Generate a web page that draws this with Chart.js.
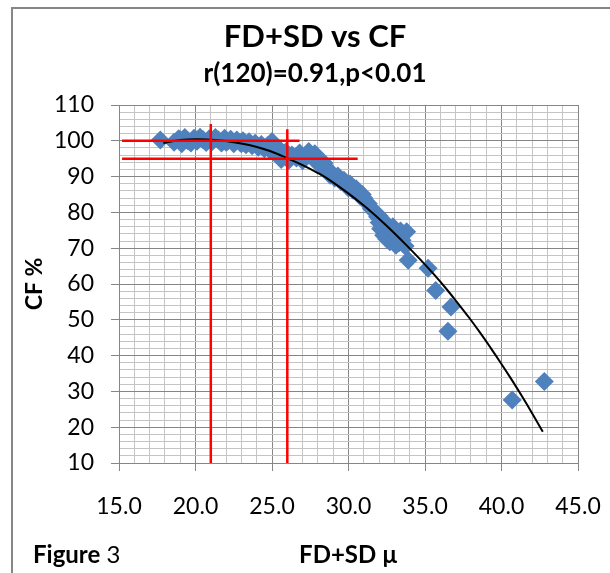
<!DOCTYPE html>
<html>
<head>
<meta charset="utf-8">
<script src="https://cdn.jsdelivr.net/npm/chart.js@4.4.1/dist/chart.umd.min.js"></script>
<style>
  html, body { margin: 0; padding: 0; background: #fff; }
  canvas { display: block; }
</style>
</head>
<body>
<canvas id="cfChart" width="610" height="573"></canvas>
<script>
// valores
const fdsd = [
    17.7, 18.6, 18.9, 19.0, 19.1, 19.3, 19.5, 19.7, 19.9, 20.0, 20.1, 20.3, 20.5, 20.7, 20.9, 21.0, 21.1, 21.3,
    21.5, 21.7, 21.9, 22.0, 22.1, 22.3, 22.5, 22.7, 22.9, 23.0, 23.1, 23.3, 23.5, 23.7, 23.9, 24.0, 24.1, 24.3,
    24.5, 24.7, 24.9, 25.0, 25.1, 25.3, 25.5, 25.6, 25.7, 25.9, 26.0, 26.1, 26.3,
    26.6, 26.8, 27.0, 27.2, 27.4, 27.5, 27.6, 27.8, 28.0, 28.2, 28.4, 28.6, 28.8,
    28.9, 29.1, 29.3, 29.5, 29.7, 29.9, 30.0, 30.1, 30.3, 30.5, 30.7, 30.9, 31.0, 31.1, 31.3, 31.5, 31.7,
    31.9, 32.0, 32.0, 32.1, 32.2, 32.3, 32.4, 32.5, 32.5, 32.6, 32.7, 32.8, 32.9, 33.0, 33.0, 33.1, 33.2,
    33.3, 33.4, 33.5, 33.7, 33.8, 33.9,
    35.2, 35.7, 36.7, 36.5, 40.7, 42.8
];
const cf = [
    100.2, 99.6, 100.6, 100.3, 99.2, 100.9, 100.0, 99.4, 100.7, 100.4, 99.9, 101.0, 100.3, 99.5, 100.6, 100.1, 99.8, 100.9,
    100.2, 99.4, 100.7, 99.6, 99.9, 100.4, 99.2, 100.2, 99.6, 99.2, 100.0, 98.9, 99.7, 98.6, 99.3, 98.8, 98.2, 99.0,
    97.8, 98.6, 97.3, 99.8, 98.2, 96.6, 97.6, 94.8, 95.6, 96.9, 95.8, 94.6, 96.0,
    95.2, 96.6, 94.4, 95.8, 97.0, 96.0, 95.4, 96.4, 94.0, 92.8, 93.8, 91.6, 90.4,
    91.0, 89.6, 90.2, 88.6, 89.0, 87.4, 86.8, 87.9, 86.2, 86.6, 84.8, 85.0, 84.0, 83.2, 82.4, 81.0, 80.2,
    78.8, 77.2, 79.0, 75.4, 78.0, 73.6, 76.4, 72.6, 73.8, 75.0, 71.8, 74.0, 76.0, 72.8, 74.6, 70.8, 73.6,
    71.5, 74.8, 72.2, 70.6, 74.6, 66.6,
    64.4, 58.2, 53.6, 46.8, 27.6, 32.8
];

// linea de tendencia (polinomica)
const trendX = [17.9, 19.0, 20.1, 21.3, 22.5, 23.5, 24.3, 25.2, 26.0, 27.0, 28.0, 28.6, 29.9, 31.0, 32.1, 33.0,
    33.8, 34.7, 35.6, 36.4, 37.1, 37.9, 38.6, 39.3, 39.9, 40.6, 41.3, 42.0, 42.7];
const trendY = [99.4, 100.2, 100.4, 100.2, 99.6, 98.8, 97.9, 96.6, 95.1, 93.2, 91.0, 89.5, 85.6, 81.9, 77.8, 74.2,
    70.8, 66.8, 62.6, 58.6, 54.9, 50.5, 46.4, 42.1, 38.3, 33.7, 28.9, 23.9, 18.7];

// lineas rojas de referencia
const redH100 = [[15.2, 100], [26.8, 100]];
const redH95 = [[15.2, 95], [30.6, 95]];
const redV21 = [[21, 10], [21, 104.7]];
const redV26 = [[26, 10], [26, 103.2]];

const xTicks = [15, 20, 25, 30, 35, 40, 45];
const yTicks = [10, 20, 30, 40, 50, 60, 70, 80, 90, 100, 110];

const MAJOR = '#868686';
const MINOR = '#c4c4c4';
const FONT = 'Lato, "Open Sans", sans-serif';

const toPts = arr => arr.map(p => ({ x: p[0], y: p[1] }));
const scatterPts = fdsd.map((x, i) => ({ x: x, y: cf[i] }));
const trendPts = trendX.map((x, i) => ({ x: x, y: trendY[i] }));

function redLine(pts) {
    return {
        type: 'line',
        data: toPts(pts),
        borderColor: '#ff0000',
        borderWidth: 2.5,
        pointRadius: 0,
        fill: false
    };
}

// marco y textos fijos
const framePlugin = {
    id: 'frame',
    beforeDraw(chart) {
        const ctx = chart.ctx;
        ctx.save();
        ctx.fillStyle = '#fff';
        ctx.fillRect(0, 0, chart.width, chart.height);
        ctx.strokeStyle = MAJOR;
        ctx.lineWidth = 2;
        ctx.strokeRect(12, 8, 700, 700);
        ctx.restore();
    },
    afterDraw(chart) {
        const ctx = chart.ctx;
        ctx.save();
        ctx.fillStyle = '#000';
        ctx.textAlign = 'center';
        ctx.textBaseline = 'alphabetic';
        ctx.font = 'bold 31px ' + FONT;
        ctx.fillText('FD+SD vs CF', 315, 47);
        ctx.font = 'bold 26px ' + FONT;
        ctx.fillText('r(120)=0.91,p<0.01', 315, 82);

        ctx.textAlign = 'left';
        ctx.font = 'bold 24px ' + FONT;
        ctx.fillText('Figure', 33, 563);
        const w = ctx.measureText('Figure').width;
        ctx.font = '24px ' + FONT;
        ctx.fillText(' 3', 33 + w, 563);
        ctx.restore();
    }
};

const chart = new Chart(document.getElementById('cfChart'), {
    type: 'scatter',
    data: {
        datasets: [
            redLine(redH100),
            redLine(redH95),
            redLine(redV21),
            redLine(redV26),
            {
                type: 'line',
                data: trendPts,
                borderColor: '#000',
                borderWidth: 2,
                pointRadius: 0,
                tension: 0.4,
                fill: false
            },
            {
                data: scatterPts,
                pointStyle: 'rectRot',
                pointRadius: 9.5,
                backgroundColor: '#4f81bd',
                borderColor: '#4f81bd',
                borderWidth: 0
            }
        ]
    },
    options: {
        responsive: false,
        animation: false,
        layout: { padding: { left: 12, right: 32, top: 105, bottom: 0 } },
        plugins: {
            legend: { display: false },
            tooltip: { enabled: false }
        },
        scales: {
            x: {
                type: 'linear',
                min: 15,
                max: 45,
                afterFit(scale) {
                    scale.height = 110;
                    scale.paddingLeft = 0;
                    scale.paddingRight = 0;
                },
                ticks: {
                    stepSize: 1,
                    autoSkip: false,
                    maxRotation: 0,
                    padding: 22,
                    color: '#000',
                    font: { family: FONT, size: 23 },
                    callback: v => xTicks.includes(v) ? v.toFixed(1) : ''
                },
                grid: {
                    color: c => c.tick && c.tick.value % 5 === 0 ? MAJOR : MINOR,
                    tickColor: c => c.tick && c.tick.value % 5 === 0 ? MAJOR : 'rgba(0,0,0,0)',
                    tickLength: 8,
                    lineWidth: 1
                },
                border: { color: MAJOR, width: 1 },
                title: {
                    display: true,
                    text: 'FD+SD µ',
                    color: '#000',
                    font: { family: FONT, size: 24, weight: 'bold' },
                    padding: { top: 0, bottom: 3 }
                }
            },
            y: {
                type: 'linear',
                min: 10,
                max: 110,
                afterFit(scale) {
                    scale.width = 107;
                    scale.paddingTop = 0;
                    scale.paddingBottom = 0;
                },
                ticks: {
                    stepSize: 2,
                    autoSkip: false,
                    padding: 17,
                    color: '#000',
                    font: { family: FONT, size: 23 },
                    callback: v => yTicks.includes(v) ? String(v) : ''
                },
                grid: {
                    color: c => c.tick && c.tick.value % 10 === 0 ? MAJOR : MINOR,
                    tickColor: c => c.tick && c.tick.value % 10 === 0 ? MAJOR : 'rgba(0,0,0,0)',
                    tickLength: 8,
                    lineWidth: 1
                },
                border: { color: MAJOR, width: 1 },
                title: {
                    display: true,
                    text: 'CF %',
                    color: '#000',
                    font: { family: FONT, size: 23, weight: 'bold' },
                    padding: { top: 9, bottom: 0 }
                }
            }
        }
    },
    plugins: [framePlugin]
});
</script>
</body>
</html>
